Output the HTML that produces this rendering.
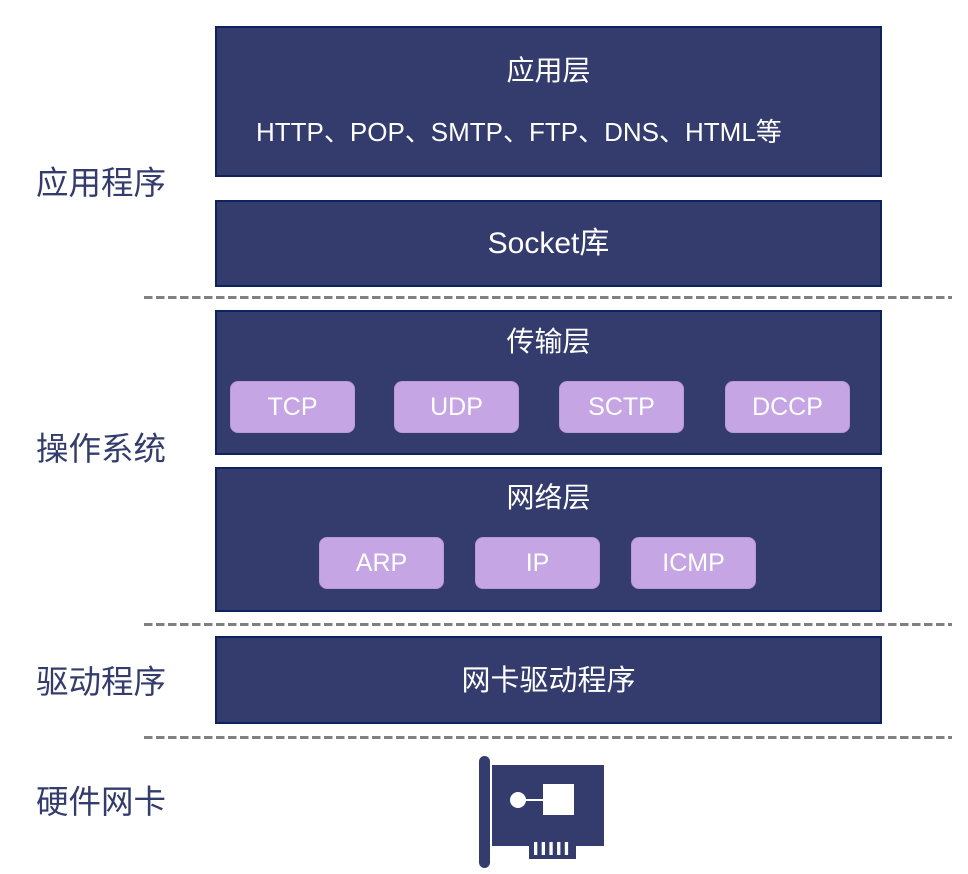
<!DOCTYPE html>
<html>
<head>
<meta charset="utf-8">
<style>
  html, body { margin:0; padding:0; background:#fff; }
  body { width:968px; height:874px; position:relative; overflow:hidden;
         font-family:"Liberation Sans","Noto Sans CJK SC",sans-serif; }
  .box { position:absolute; left:215px; width:667px; box-sizing:border-box;
         background:#343c6e; border:2px solid #0e2260; }
  .t { position:absolute; left:215px; width:667px; text-align:center; color:#fff;
       white-space:nowrap; }
  .lbl { position:absolute; left:36px; color:#343c6e; font-size:32.5px; line-height:40px;
         font-family:"Noto Sans CJK SC","Liberation Sans",sans-serif; white-space:nowrap; }
  .pill { position:absolute; width:125px; height:52px; box-sizing:border-box;
          background:#c5a5e3; border:1px solid #b898d8; border-radius:8px;
          color:#fff; font-size:25px; line-height:50px; text-align:center; }
</style>
</head>
<body>

<!-- dashed separators -->
<svg width="968" height="874" style="position:absolute;left:0;top:0" xmlns="http://www.w3.org/2000/svg">
  <g stroke="#808080" stroke-width="3" stroke-dasharray="8.5 3.5" fill="none">
    <line x1="144" y1="297.5" x2="952" y2="297.5"/>
    <line x1="144" y1="624.5" x2="952" y2="624.5"/>
    <line x1="144" y1="737.5" x2="952" y2="737.5"/>
  </g>
</svg>

<!-- left labels -->
<div class="lbl" style="top:161px;">应用程序</div>
<div class="lbl" style="top:427px;">操作系统</div>
<div class="lbl" style="top:660px;">驱动程序</div>
<div class="lbl" style="top:780px;">硬件网卡</div>

<!-- boxes -->
<div class="box" style="top:26px;height:151px;"></div>
<div class="box" style="top:200px;height:87px;"></div>
<div class="box" style="top:310px;height:145px;"></div>
<div class="box" style="top:467px;height:145px;"></div>
<div class="box" style="top:636px;height:88px;"></div>

<!-- box texts -->
<div class="t" style="top:53px;font-size:28px;line-height:36px;">应用层</div>
<div class="t" style="top:115px;left:256px;width:auto;text-align:left;font-size:26px;line-height:34px;">HTTP、POP、SMTP、FTP、DNS、HTML等</div>
<div class="t" style="top:225px;font-size:30px;line-height:38px;">Socket库</div>
<div class="t" style="top:324px;font-size:28px;line-height:36px;">传输层</div>
<div class="t" style="top:480px;font-size:28px;line-height:36px;">网络层</div>
<div class="t" style="top:662px;font-size:29px;line-height:38px;">网卡驱动程序</div>

<!-- pills -->
<div class="pill" style="left:230px;top:381px;">TCP</div>
<div class="pill" style="left:394px;top:381px;">UDP</div>
<div class="pill" style="left:559px;top:381px;">SCTP</div>
<div class="pill" style="left:725px;top:381px;">DCCP</div>
<div class="pill" style="left:319px;top:537px;">ARP</div>
<div class="pill" style="left:475px;top:537px;">IP</div>
<div class="pill" style="left:631px;top:537px;">ICMP</div>

<!-- NIC icon -->
<svg width="968" height="874" style="position:absolute;left:0;top:0" xmlns="http://www.w3.org/2000/svg">
  <rect x="479" y="756" width="11" height="112" rx="5.5" fill="#343c6e"/>
  <rect x="492" y="765" width="112" height="81" fill="#343c6e"/>
  <rect x="529" y="840" width="47" height="19" fill="#343c6e"/>
  <g fill="#fff">
    <rect x="534" y="842" width="3.3" height="13"/>
    <rect x="541.7" y="842" width="3.3" height="13"/>
    <rect x="549.4" y="842" width="3.3" height="13"/>
    <rect x="557.1" y="842" width="3.3" height="13"/>
    <rect x="564.8" y="842" width="3.3" height="13"/>
    <circle cx="518" cy="800" r="8"/>
    <rect x="524" y="799" width="20" height="2"/>
    <rect x="543" y="784" width="31" height="31"/>
  </g>
</svg>

</body>
</html>
